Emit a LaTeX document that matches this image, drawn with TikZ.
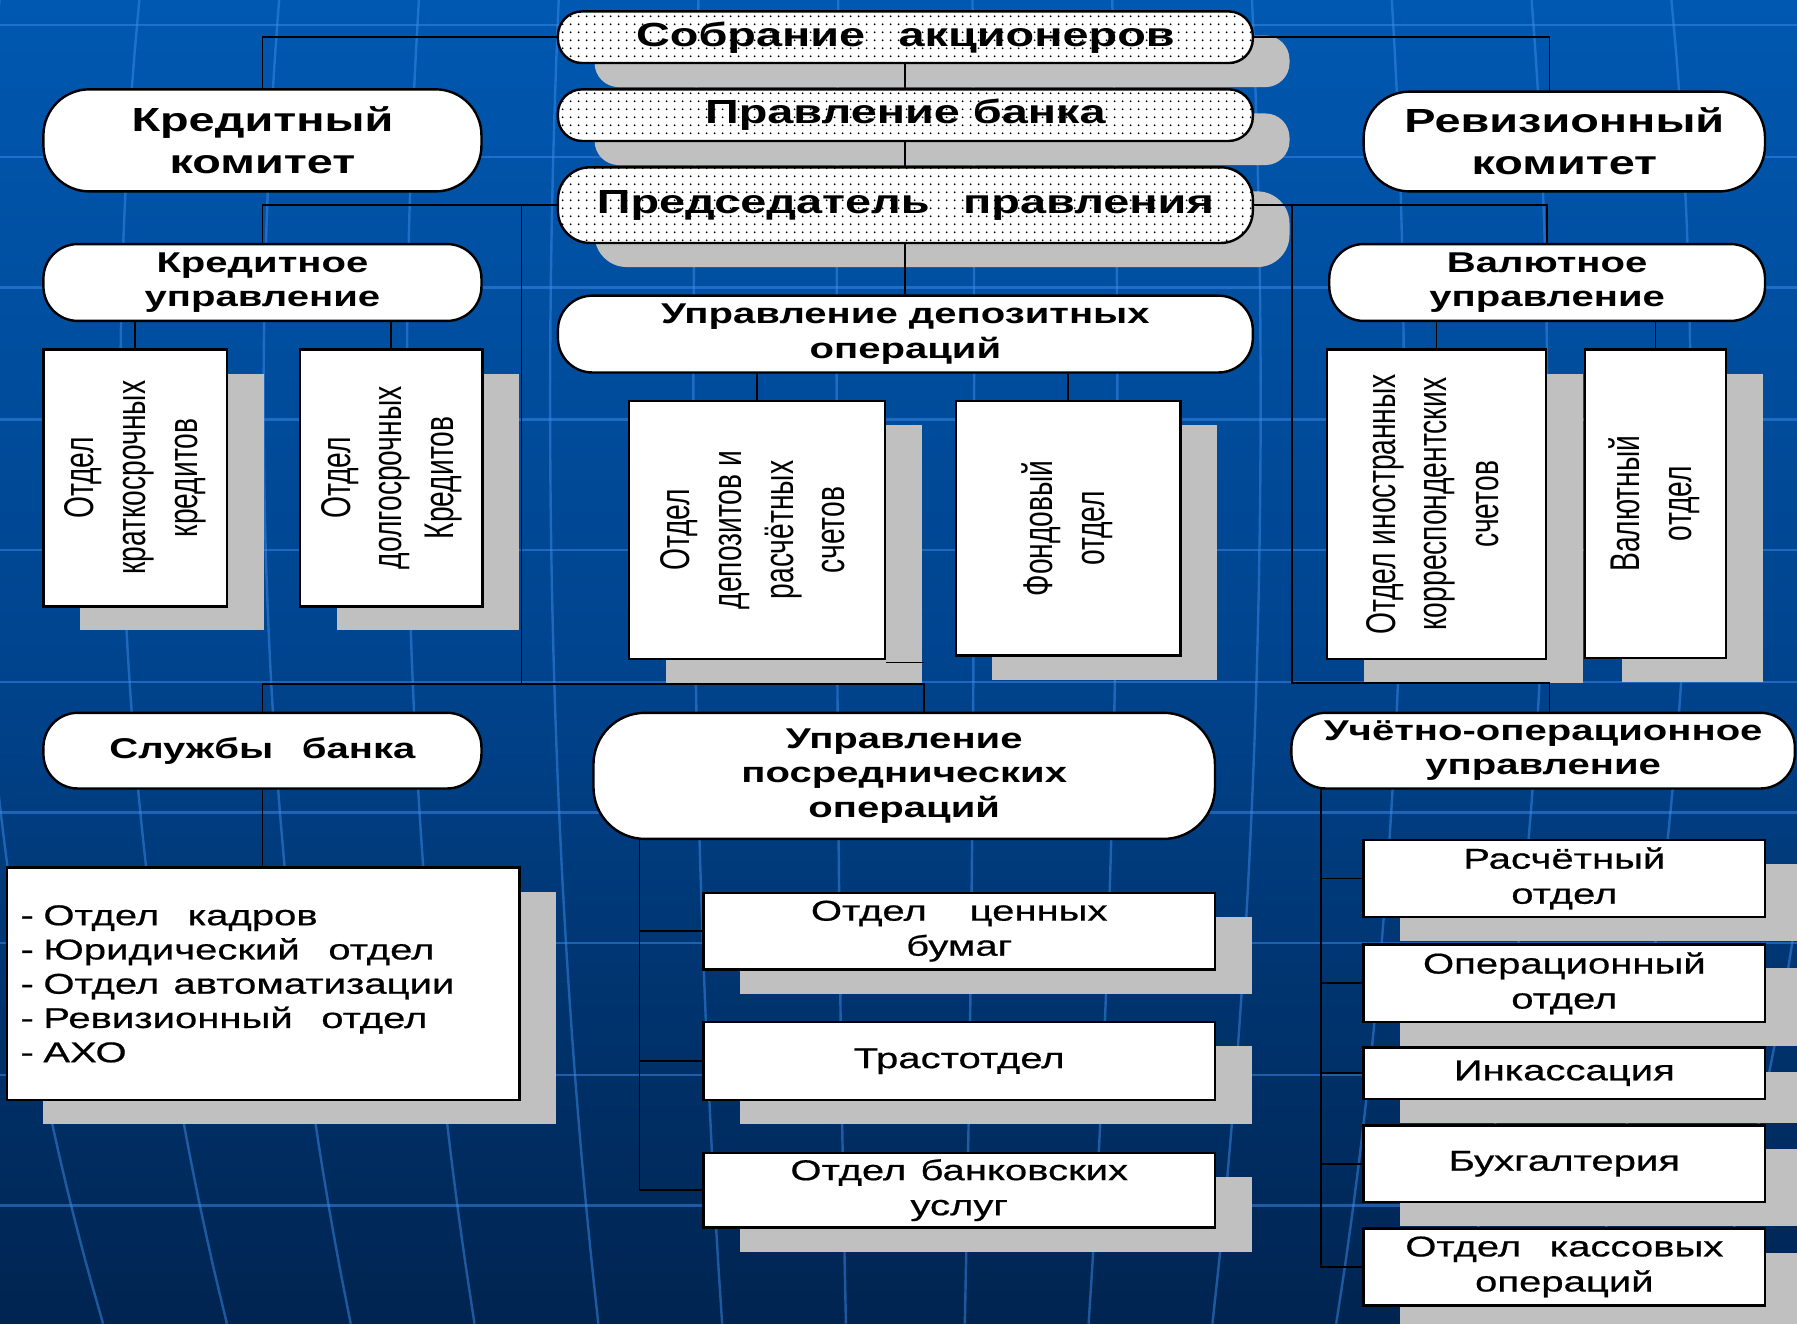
\documentclass[tikz,border=0pt]{standalone}
\usepackage{fontspec}
\setmainfont{Liberation Sans}
\newfontfamily\shirfont[FakeStretch=1.4]{Liberation Sans}
\newfontfamily\obychfont[FakeStretch=1.4, FakeBold=0.6]{Liberation Sans}
\newfontfamily\uzkfont[FakeStretch=0.68]{Liberation Sans}
\usetikzlibrary{shadows, patterns.meta}

\definecolor{fonverh}{RGB}{0,88,176}
\definecolor{fonser}{RGB}{0,68,142}
\definecolor{fonniz}{RGB}{0,36,80}
\definecolor{setkacv}{RGB}{60,140,235}
\definecolor{tencv}{RGB}{192,192,192}

\pgfdeclarepattern{
  name=melkietochki, type=uncolored,
  bottom left={\pgfpoint{0pt}{0pt}}, top right={\pgfpoint{1.9pt}{1.9pt}},
  tile size={\pgfpoint{1.9pt}{1.9pt}},
  code={\pgfpathcircle{\pgfpoint{0.95pt}{0.95pt}}{0.25pt}\pgfusepath{fill}}
}

% vertical text in the tall boxes
\newcommand{\vtxt}[1]{\rotatebox{90}{\uzkfont\fontsize{10.3}{12.8}\selectfont
  \begin{tabular}{@{}c@{}}#1\end{tabular}}}

\begin{document}
\begin{tikzpicture}[
    x=0.01cm, y=-0.01cm,
    liniya/.style={draw=black, line width=0.45pt},
    setka/.style={draw=setkacv, line width=0.6pt, opacity=0.5},
    ten/.style={drop shadow={shadow xshift=0.32cm, shadow yshift=-0.21cm,
                fill=tencv, opacity=1}},
    kapsula/.style={draw, line width=0.6pt, fill=white, rounded corners=0.3cm,
                    inner sep=0pt, align=center,
                    font=\shirfont\fontsize{7.1}{8.6}\selectfont\bfseries},
    bolshaya/.style={kapsula, rounded corners=0.4cm,
                     font=\shirfont\fontsize{8.3}{10.5}\selectfont\bfseries},
    tochki/.style={bolshaya, rounded corners=0.21cm, ten, preaction={fill=white},
                   pattern={melkietochki}, pattern color=black},
    otdel/.style={draw, line width=0.6pt, fill=white, ten, inner sep=0pt,
                  align=center, font=\obychfont\fontsize{7.1}{8.7}\selectfont}
  ]
    \useasboundingbox (0,0) rectangle (1568,1155);

    % background
    \begin{scope}
      \clip (0,0) rectangle (1568,1155);
      \fill[top color=fonverh, bottom color=fonniz, middle color=fonser]
        (0,0) rectangle (1568,1155);
      \foreach \y in {22,137,251,366,480,595,709,823,938,1052}
        \draw[setka] (0,\y) -- (1568,\y);
      \foreach \a in {-935,-810,-685,-560,-435,-310,-185,-60,60,185,310,435,560,685,810,935}
        \draw[setka] plot[domain=0:1155, samples=25, smooth]
          ({790+\a*sqrt(1-((\x-350)/1600)^2)}, \x);
    \end{scope}

    % top management
    \node[tochki, minimum width=6.06cm, minimum height=0.45cm] (sobranie)
      at (790,32.5) {Собрание\quad акционеров};
    \node[tochki, minimum width=6.06cm, minimum height=0.45cm] (pravlenie)
      at (790,100.5) {Правление банка};
    \node[tochki, rounded corners=0.28cm, minimum width=6.06cm,
          minimum height=0.66cm] (predsedatel)
      at (790,179) {Председатель\quad правления};

    \node[bolshaya, minimum width=3.82cm, minimum height=0.89cm] (kredkomitet)
      at (229,122.5) {Кредитный\\комитет};
    \node[bolshaya, minimum width=3.5cm, minimum height=0.87cm] (revkomitet)
      at (1365,123.5) {Ревизионный\\комитет};

    % departments
    \node[kapsula, minimum width=3.82cm, minimum height=0.67cm] (kredupr)
      at (229,246.5) {Кредитное\\управление};
    \node[kapsula, minimum width=3.8cm, minimum height=0.67cm] (valupr)
      at (1350,246.5) {Валютное\\управление};
    \node[kapsula, minimum width=6.06cm, minimum height=0.67cm] (depupr)
      at (790,291.5) {Управление депозитных\\операций};

    \node[otdel, minimum width=1.6cm, minimum height=2.24cm] (kratkosroch)
      at (118,417) {\vtxt{Отдел\\краткосрочных\\кредитов}};
    \node[otdel, minimum width=1.59cm, minimum height=2.24cm] (dolgosroch)
      at (341.5,417) {\vtxt{Отдел\\долгосрочных\\Кредитов}};
    \node[otdel, minimum width=2.23cm, minimum height=2.25cm] (depozit)
      at (660.5,462.5) {\vtxt{Отдел\\депозитов и\\расчётных\\счетов}};
    \node[otdel, minimum width=1.96cm, minimum height=2.22cm] (fond)
      at (932,461) {\vtxt{Фондовый\\отдел}};
    \node[otdel, minimum width=1.91cm, minimum height=2.7cm] (inostr)
      at (1253.5,440) {\vtxt{Отдел\ иностранных\\корреспондентских\\счетов}};
    \node[otdel, minimum width=1.23cm, minimum height=2.69cm] (valotdel)
      at (1444.5,439.5) {\vtxt{Валютный\\отдел}};

    % lower row
    \node[kapsula, minimum width=3.82cm, minimum height=0.66cm] (sluzhby)
      at (229,655) {Службы\quad банка};
    \node[kapsula, rounded corners=0.45cm, minimum width=5.42cm,
          minimum height=1.1cm] (posred)
      at (789,677) {Управление\\посреднических\\операций};
    \node[kapsula, minimum width=4.39cm, minimum height=0.66cm] (uchet)
      at (1346.5,655) {Учётно-операционное\\управление};

    \node[otdel, minimum width=4.47cm, minimum height=2.03cm, text width=4.23cm,
          align=left, font=\obychfont\fontsize{7.1}{8.5}\selectfont] (spisok)
      at (229.5,858.5) {- Отдел\quad кадров\\- Юридический\quad отдел\\
        - Отдел\enspace автоматизации\\- Ревизионный\quad отдел\\- АХО};

    \node[otdel, minimum width=4.46cm, minimum height=0.67cm] (cennye)
      at (837,812.5) {Отдел\hspace{1.5em}ценных\\бумаг};
    \node[otdel, minimum width=4.46cm, minimum height=0.68cm] (trast)
      at (837,926) {Трастотдел};
    \node[otdel, minimum width=4.46cm, minimum height=0.65cm] (bankusl)
      at (837,1038.5) {Отдел\enspace банковских\\услуг};

    \node[otdel, minimum width=3.5cm, minimum height=0.67cm] (raschet)
      at (1365,766.5) {Расчётный\\отдел};
    \node[otdel, minimum width=3.5cm, minimum height=0.68cm] (operac)
      at (1365,858) {Операционный\\отдел};
    \node[otdel, minimum width=3.5cm, minimum height=0.45cm] (inkass)
      at (1365,936.5) {Инкассация};
    \node[otdel, minimum width=3.5cm, minimum height=0.67cm] (buhg)
      at (1365,1015.5) {Бухгалтерия};
    \node[otdel, minimum width=3.5cm, minimum height=0.67cm] (kassa)
      at (1365,1105.5) {Отдел\quad кассовых\\операций};

    % connectors
    \coordinate (revverh) at (1352,80);
    \coordinate (levstoyak) at (455,179);
    \coordinate (pravstoyak) at (1127,179);
    \coordinate (levshina) at (806,597);
    \coordinate (pravshina) at (1352,596);
    \coordinate (posredstvol) at (558,732);
    \coordinate (uchetstvol) at (1153,688);
    \coordinate (depozithvost) at (806,578);

    \draw[liniya] (sobranie) -- (pravlenie);
    \draw[liniya] (pravlenie) -- (predsedatel);
    \draw[liniya] (predsedatel) -- (depupr);
    \draw[liniya] (sobranie.west) -| (kredkomitet.north);
    \draw[liniya] (sobranie.east) -| (revverh);
    \draw[liniya] (predsedatel.west) -| (kredupr.north);
    \draw[liniya] (predsedatel.east) -| (valupr.north);
    \draw[liniya] (levstoyak) -- (levstoyak |- levshina);
    \draw[liniya] (sluzhby.north) |- (levshina) -- (levshina |- posred.north);
    \draw[liniya] (pravstoyak) |- (pravshina) -- (pravshina |- uchet.north);

    \foreach \otd in {kratkosroch, dolgosroch}
      \draw[liniya] (\otd.north) -- (\otd.north |- kredupr.south);
    \foreach \otd in {depozit, fond}
      \draw[liniya] (\otd.north) -- (\otd.north |- depupr.south);
    \foreach \otd in {inostr, valotdel}
      \draw[liniya] (\otd.north) -- (\otd.north |- valupr.south);
    \draw[liniya] (depozit.east |- depozithvost) -- (depozithvost);

    \draw[liniya] (sluzhby.south) -- (sluzhby.south |- spisok.north);
    \foreach \otd in {cennye, trast, bankusl}
      \draw[liniya] (posredstvol) |- (\otd.west);
    \foreach \otd in {raschet, operac, inkass, buhg, kassa}
      \draw[liniya] (uchetstvol) |- (\otd.west);
  \end{tikzpicture}
\end{document}
